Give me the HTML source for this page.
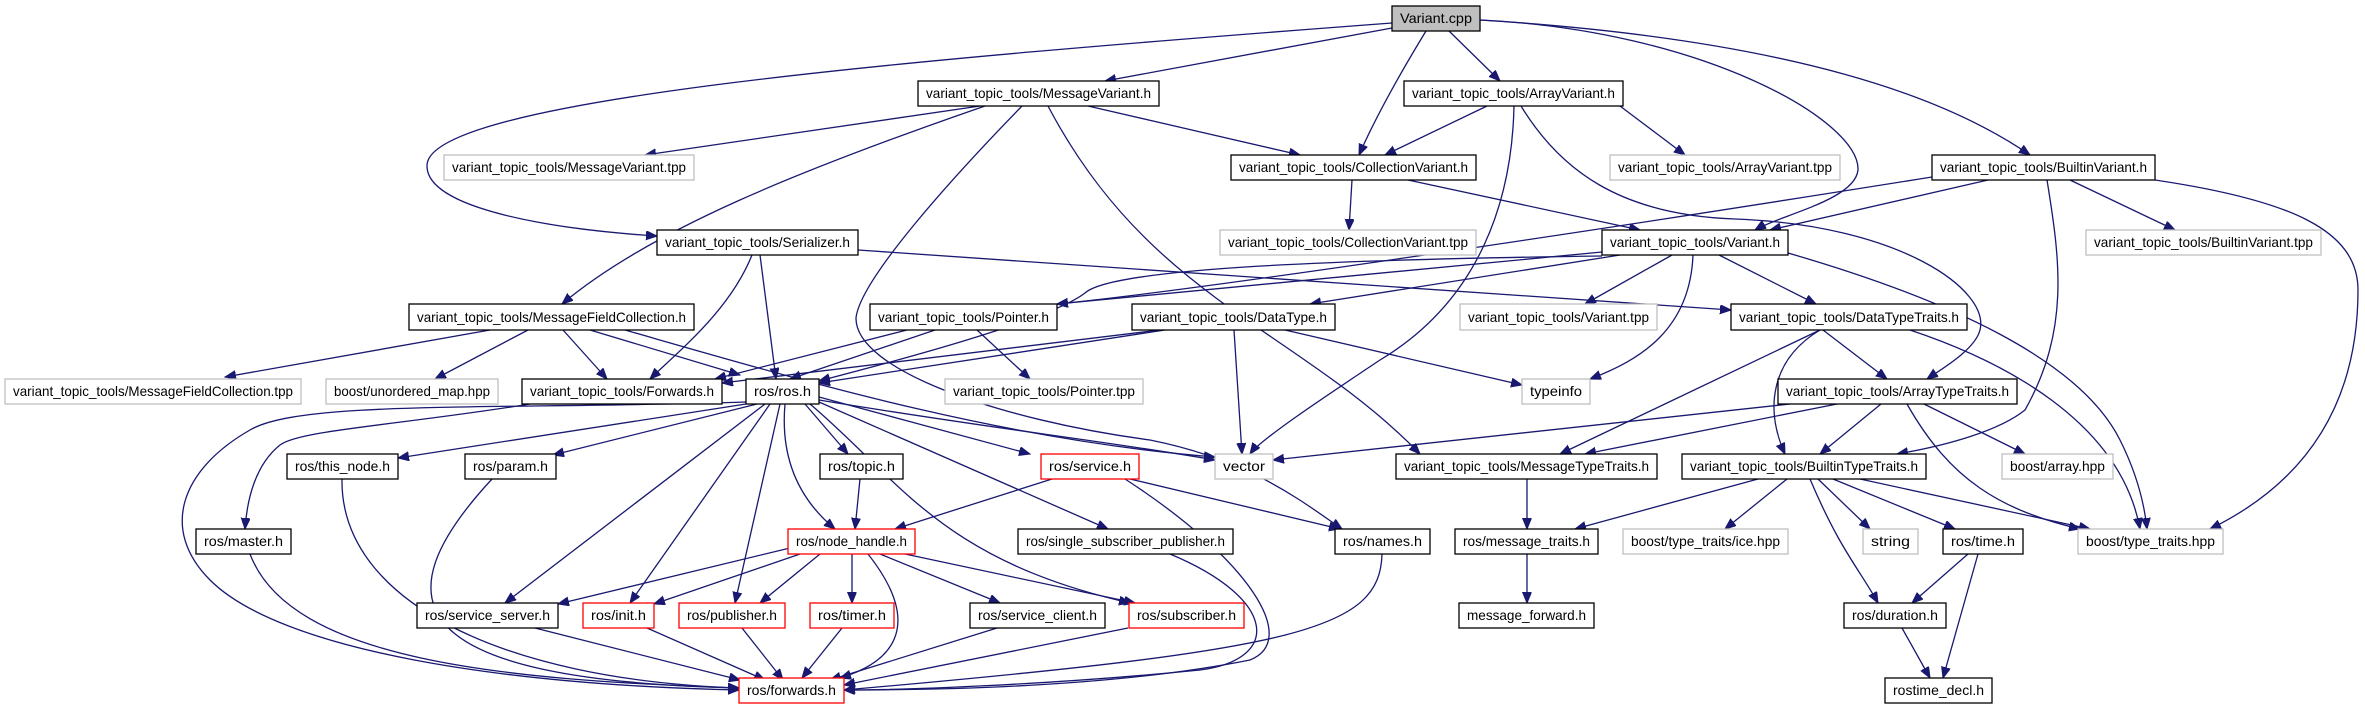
<!DOCTYPE html>
<html><head><meta charset="utf-8"><style>
html,body{margin:0;padding:0;background:#fff}
svg{display:block}
text{font-family:"Liberation Sans",sans-serif;font-size:14px;fill:#000}
.n{fill:#fff;stroke:#000;stroke-width:1.3}
.g{fill:#fff;stroke:#bfbfbf;stroke-width:1.3}
.r{fill:#fff;stroke:#ff0000;stroke-width:1.3}
.c{fill:#bfbfbf;stroke:#000;stroke-width:1.3}
path{fill:none;stroke:#191970;stroke-width:1.3}
</style></head><body>
<svg width="2365" height="709" viewBox="0 0 2365 709" xmlns="http://www.w3.org/2000/svg">
<defs><marker id="a" markerUnits="userSpaceOnUse" markerWidth="12" markerHeight="10" refX="11" refY="4.5" orient="auto"><polygon points="0,0 11,4.5 0,9" fill="#191970" stroke="#191970"/></marker></defs>
<g marker-end="url(#a)">
<path d="M1392,28 L1105,81"/>
<path d="M1449,31 L1500,81"/>
<path d="M1426,31 C1390,90 1370,130 1359,155"/>
<path d="M1392,23 C900,60 430,100 427,165 C425,210 560,230 657,236"/>
<path d="M1480,20 C1700,30 1860,120 1858,170 C1855,200 1780,215 1755,230"/>
<path d="M1480,20 C1800,40 1950,100 2030,155"/>
<path d="M2155,180 C2290,200 2358,230 2358,290 C2358,420 2290,490 2210,529"/>
<path d="M980,106 L645,155"/>
<path d="M1088,106 L1300,155"/>
<path d="M985,106 C800,170 650,230 562,304"/>
<path d="M1022,106 C950,180 860,280 856,318 C855,370 1000,420 1150,440 C1250,460 1300,500 1342,529"/>
<path d="M1048,106 C1150,300 1300,330 1420,454"/>
<path d="M1487,106 L1385,155"/>
<path d="M1620,106 L1685,155"/>
<path d="M1514,106 C1512,200 1480,300 1380,360 C1320,400 1260,440 1250,454"/>
<path d="M1521,106 C1560,170 1620,215 1735,219 C1900,225 1990,290 1980,330 C1975,350 1940,370 1927,379"/>
<path d="M1352,180 L1349,230"/>
<path d="M1408,180 L1640,230"/>
<path d="M1932,177 C1600,230 1200,290 1057,304"/>
<path d="M1988,180 L1770,230"/>
<path d="M2070,180 L2175,230"/>
<path d="M2047,180 C2060,260 2070,330 2025,410 C2000,430 1950,445 1897,454"/>
<path d="M752,255 C730,310 680,350 650,379"/>
<path d="M760,255 L776,379"/>
<path d="M858,250 L1731,310"/>
<path d="M1602,252 L1057,304"/>
<path d="M1620,255 L1310,304"/>
<path d="M1672,255 L1585,304"/>
<path d="M1719,255 L1816,304"/>
<path d="M1693,255 C1690,330 1640,360 1590,379"/>
<path d="M1788,253 C1950,300 2080,360 2120,440 C2140,480 2145,510 2147,529"/>
<path d="M1602,256 C1300,260 1110,270 1085,293 C1050,320 900,360 819,381"/>
<path d="M907,330 L715,379"/>
<path d="M935,330 L790,379"/>
<path d="M977,330 L1030,379"/>
<path d="M1160,330 L722,383"/>
<path d="M1165,330 L819,383"/>
<path d="M1234,330 L1242,454"/>
<path d="M1285,330 L1522,385"/>
<path d="M1823,330 L1887,379"/>
<path d="M1820,330 L1560,454"/>
<path d="M1820,330 C1770,360 1765,410 1785,454"/>
<path d="M1910,330 C2000,360 2120,420 2140,529"/>
<path d="M490,330 L225,377"/>
<path d="M528,330 L435,379"/>
<path d="M563,330 L607,379"/>
<path d="M590,330 L740,375"/>
<path d="M625,330 C800,380 1000,440 1215,457"/>
<path d="M746,402 C500,410 300,400 250,430 C180,470 160,530 210,580 C280,650 500,685 739,690"/>
<path d="M530,404 C400,425 300,430 280,445 C255,465 247,500 245,529"/>
<path d="M746,404 L398,458"/>
<path d="M757,404 L553,455"/>
<path d="M765,404 L505,603"/>
<path d="M770,404 L630,603"/>
<path d="M780,404 L735,603"/>
<path d="M785,404 C780,460 800,500 835,529"/>
<path d="M805,404 L848,454"/>
<path d="M819,397 L1030,454"/>
<path d="M819,402 L1108,529"/>
<path d="M810,404 C900,480 940,560 1130,603"/>
<path d="M819,400 C1000,430 1100,440 1215,460"/>
<path d="M342,479 C340,600 500,680 739,688"/>
<path d="M492,479 C380,600 400,680 739,688"/>
<path d="M250,554 C290,660 500,680 739,688"/>
<path d="M860,479 L855,529"/>
<path d="M1052,479 L895,529"/>
<path d="M1130,479 L1340,529"/>
<path d="M1125,479 C1250,560 1300,640 1250,660 C1100,690 900,690 844,690"/>
<path d="M1170,554 C1280,600 1280,660 1200,670 C1050,685 900,690 844,690"/>
<path d="M1382,554 C1380,630 1300,650 844,690"/>
<path d="M790,548 L558,604"/>
<path d="M800,554 L654,604"/>
<path d="M820,554 L760,603"/>
<path d="M852,554 L852,603"/>
<path d="M868,554 C920,620 900,660 840,678"/>
<path d="M880,554 L1000,603"/>
<path d="M905,554 L1135,603"/>
<path d="M535,628 L740,680"/>
<path d="M647,628 L765,680"/>
<path d="M742,628 L783,680"/>
<path d="M842,628 L802,678"/>
<path d="M997,628 L830,680"/>
<path d="M1128,628 L844,685"/>
<path d="M1790,404 L1273,460"/>
<path d="M1837,404 L1585,454"/>
<path d="M1881,404 L1820,454"/>
<path d="M1924,404 L2025,454"/>
<path d="M1907,404 C1950,480 2000,510 2080,529"/>
<path d="M1527,479 L1527,529"/>
<path d="M1758,479 L1575,529"/>
<path d="M1787,479 L1725,529"/>
<path d="M1810,479 C1840,550 1860,570 1878,603"/>
<path d="M1818,479 L1870,529"/>
<path d="M1833,479 L1955,529"/>
<path d="M1860,479 L2090,529"/>
<path d="M1527,554 L1527,603"/>
<path d="M1968,554 L1912,603"/>
<path d="M1978,554 L1943,678"/>
<path d="M1902,628 L1930,678"/>
</g>
<g>
<rect class="c" x="1392" y="6" width="88" height="25"/><text x="1436" y="23" text-anchor="middle" textLength="72" lengthAdjust="spacingAndGlyphs">Variant.cpp</text>
<rect class="n" x="918" y="81" width="241" height="25"/><text x="1038.5" y="98" text-anchor="middle" textLength="225" lengthAdjust="spacingAndGlyphs">variant_topic_tools/MessageVariant.h</text>
<rect class="n" x="1404" y="81" width="219" height="25"/><text x="1513.5" y="98" text-anchor="middle" textLength="203" lengthAdjust="spacingAndGlyphs">variant_topic_tools/ArrayVariant.h</text>
<rect class="g" x="444" y="155" width="250" height="25"/><text x="569" y="172" text-anchor="middle" textLength="234" lengthAdjust="spacingAndGlyphs">variant_topic_tools/MessageVariant.tpp</text>
<rect class="n" x="1231" y="155" width="245" height="25"/><text x="1353.5" y="172" text-anchor="middle" textLength="229" lengthAdjust="spacingAndGlyphs">variant_topic_tools/CollectionVariant.h</text>
<rect class="g" x="1610" y="155" width="230" height="25"/><text x="1725" y="172" text-anchor="middle" textLength="214" lengthAdjust="spacingAndGlyphs">variant_topic_tools/ArrayVariant.tpp</text>
<rect class="n" x="1932" y="155" width="223" height="25"/><text x="2043.5" y="172" text-anchor="middle" textLength="207" lengthAdjust="spacingAndGlyphs">variant_topic_tools/BuiltinVariant.h</text>
<rect class="n" x="657" y="230" width="201" height="25"/><text x="757.5" y="247" text-anchor="middle" textLength="185" lengthAdjust="spacingAndGlyphs">variant_topic_tools/Serializer.h</text>
<rect class="g" x="1220" y="230" width="256" height="25"/><text x="1348" y="247" text-anchor="middle" textLength="240" lengthAdjust="spacingAndGlyphs">variant_topic_tools/CollectionVariant.tpp</text>
<rect class="n" x="1602" y="230" width="186" height="25"/><text x="1695" y="247" text-anchor="middle" textLength="170" lengthAdjust="spacingAndGlyphs">variant_topic_tools/Variant.h</text>
<rect class="g" x="2086" y="230" width="235" height="25"/><text x="2203.5" y="247" text-anchor="middle" textLength="219" lengthAdjust="spacingAndGlyphs">variant_topic_tools/BuiltinVariant.tpp</text>
<rect class="n" x="409" y="304" width="285" height="26"/><text x="551.5" y="322" text-anchor="middle" textLength="269" lengthAdjust="spacingAndGlyphs">variant_topic_tools/MessageFieldCollection.h</text>
<rect class="n" x="870" y="304" width="187" height="26"/><text x="963.5" y="322" text-anchor="middle" textLength="171" lengthAdjust="spacingAndGlyphs">variant_topic_tools/Pointer.h</text>
<rect class="n" x="1132" y="304" width="203" height="26"/><text x="1233.5" y="322" text-anchor="middle" textLength="187" lengthAdjust="spacingAndGlyphs">variant_topic_tools/DataType.h</text>
<rect class="g" x="1460" y="304" width="197" height="26"/><text x="1558.5" y="322" text-anchor="middle" textLength="181" lengthAdjust="spacingAndGlyphs">variant_topic_tools/Variant.tpp</text>
<rect class="n" x="1731" y="304" width="236" height="26"/><text x="1849" y="322" text-anchor="middle" textLength="220" lengthAdjust="spacingAndGlyphs">variant_topic_tools/DataTypeTraits.h</text>
<rect class="g" x="5" y="379" width="296" height="25"/><text x="153" y="396" text-anchor="middle" textLength="280" lengthAdjust="spacingAndGlyphs">variant_topic_tools/MessageFieldCollection.tpp</text>
<rect class="g" x="326" y="379" width="172" height="25"/><text x="412" y="396" text-anchor="middle" textLength="156" lengthAdjust="spacingAndGlyphs">boost/unordered_map.hpp</text>
<rect class="n" x="522" y="379" width="200" height="25"/><text x="622" y="396" text-anchor="middle" textLength="184" lengthAdjust="spacingAndGlyphs">variant_topic_tools/Forwards.h</text>
<rect class="n" x="746" y="379" width="73" height="25"/><text x="782.5" y="396" text-anchor="middle" textLength="57" lengthAdjust="spacingAndGlyphs">ros/ros.h</text>
<rect class="g" x="945" y="379" width="198" height="25"/><text x="1044" y="396" text-anchor="middle" textLength="182" lengthAdjust="spacingAndGlyphs">variant_topic_tools/Pointer.tpp</text>
<rect class="g" x="1522" y="379" width="68" height="25"/><text x="1556" y="396" text-anchor="middle" textLength="52" lengthAdjust="spacingAndGlyphs">typeinfo</text>
<rect class="n" x="1778" y="379" width="239" height="25"/><text x="1897.5" y="396" text-anchor="middle" textLength="223" lengthAdjust="spacingAndGlyphs">variant_topic_tools/ArrayTypeTraits.h</text>
<rect class="n" x="287" y="454" width="111" height="25"/><text x="342.5" y="471" text-anchor="middle" textLength="95" lengthAdjust="spacingAndGlyphs">ros/this_node.h</text>
<rect class="n" x="465" y="454" width="91" height="25"/><text x="510.5" y="471" text-anchor="middle" textLength="75" lengthAdjust="spacingAndGlyphs">ros/param.h</text>
<rect class="n" x="820" y="454" width="83" height="25"/><text x="861.5" y="471" text-anchor="middle" textLength="67" lengthAdjust="spacingAndGlyphs">ros/topic.h</text>
<rect class="r" x="1041" y="454" width="98" height="25"/><text x="1090" y="471" text-anchor="middle" textLength="82" lengthAdjust="spacingAndGlyphs">ros/service.h</text>
<rect class="g" x="1215" y="454" width="58" height="25"/><text x="1244" y="471" text-anchor="middle" textLength="42" lengthAdjust="spacingAndGlyphs">vector</text>
<rect class="n" x="1396" y="454" width="261" height="25"/><text x="1526.5" y="471" text-anchor="middle" textLength="245" lengthAdjust="spacingAndGlyphs">variant_topic_tools/MessageTypeTraits.h</text>
<rect class="n" x="1682" y="454" width="244" height="25"/><text x="1804" y="471" text-anchor="middle" textLength="228" lengthAdjust="spacingAndGlyphs">variant_topic_tools/BuiltinTypeTraits.h</text>
<rect class="g" x="2002" y="454" width="111" height="25"/><text x="2057.5" y="471" text-anchor="middle" textLength="95" lengthAdjust="spacingAndGlyphs">boost/array.hpp</text>
<rect class="n" x="196" y="529" width="95" height="25"/><text x="243.5" y="546" text-anchor="middle" textLength="79" lengthAdjust="spacingAndGlyphs">ros/master.h</text>
<rect class="r" x="788" y="529" width="127" height="25"/><text x="851.5" y="546" text-anchor="middle" textLength="111" lengthAdjust="spacingAndGlyphs">ros/node_handle.h</text>
<rect class="n" x="1018" y="529" width="215" height="25"/><text x="1125.5" y="546" text-anchor="middle" textLength="199" lengthAdjust="spacingAndGlyphs">ros/single_subscriber_publisher.h</text>
<rect class="n" x="1335" y="529" width="95" height="25"/><text x="1382.5" y="546" text-anchor="middle" textLength="79" lengthAdjust="spacingAndGlyphs">ros/names.h</text>
<rect class="n" x="1455" y="529" width="143" height="25"/><text x="1526.5" y="546" text-anchor="middle" textLength="127" lengthAdjust="spacingAndGlyphs">ros/message_traits.h</text>
<rect class="g" x="1623" y="529" width="165" height="25"/><text x="1705.5" y="546" text-anchor="middle" textLength="149" lengthAdjust="spacingAndGlyphs">boost/type_traits/ice.hpp</text>
<rect class="g" x="1863" y="529" width="55" height="25"/><text x="1890.5" y="546" text-anchor="middle" textLength="39" lengthAdjust="spacingAndGlyphs">string</text>
<rect class="n" x="1943" y="529" width="80" height="25"/><text x="1983" y="546" text-anchor="middle" textLength="64" lengthAdjust="spacingAndGlyphs">ros/time.h</text>
<rect class="g" x="2078" y="529" width="145" height="25"/><text x="2150.5" y="546" text-anchor="middle" textLength="129" lengthAdjust="spacingAndGlyphs">boost/type_traits.hpp</text>
<rect class="n" x="417" y="603" width="141" height="25"/><text x="487.5" y="620" text-anchor="middle" textLength="125" lengthAdjust="spacingAndGlyphs">ros/service_server.h</text>
<rect class="r" x="583" y="603" width="71" height="25"/><text x="618.5" y="620" text-anchor="middle" textLength="55" lengthAdjust="spacingAndGlyphs">ros/init.h</text>
<rect class="r" x="679" y="603" width="106" height="25"/><text x="732" y="620" text-anchor="middle" textLength="90" lengthAdjust="spacingAndGlyphs">ros/publisher.h</text>
<rect class="r" x="810" y="603" width="84" height="25"/><text x="852" y="620" text-anchor="middle" textLength="68" lengthAdjust="spacingAndGlyphs">ros/timer.h</text>
<rect class="n" x="970" y="603" width="135" height="25"/><text x="1037.5" y="620" text-anchor="middle" textLength="119" lengthAdjust="spacingAndGlyphs">ros/service_client.h</text>
<rect class="r" x="1129" y="603" width="115" height="25"/><text x="1186.5" y="620" text-anchor="middle" textLength="99" lengthAdjust="spacingAndGlyphs">ros/subscriber.h</text>
<rect class="n" x="1459" y="603" width="135" height="25"/><text x="1526.5" y="620" text-anchor="middle" textLength="119" lengthAdjust="spacingAndGlyphs">message_forward.h</text>
<rect class="n" x="1844" y="603" width="102" height="25"/><text x="1895" y="620" text-anchor="middle" textLength="86" lengthAdjust="spacingAndGlyphs">ros/duration.h</text>
<rect class="r" x="739" y="678" width="105" height="25"/><text x="791.5" y="695" text-anchor="middle" textLength="89" lengthAdjust="spacingAndGlyphs">ros/forwards.h</text>
<rect class="n" x="1885" y="678" width="107" height="25"/><text x="1938.5" y="695" text-anchor="middle" textLength="91" lengthAdjust="spacingAndGlyphs">rostime_decl.h</text>
</g>
</svg>
</body></html>
